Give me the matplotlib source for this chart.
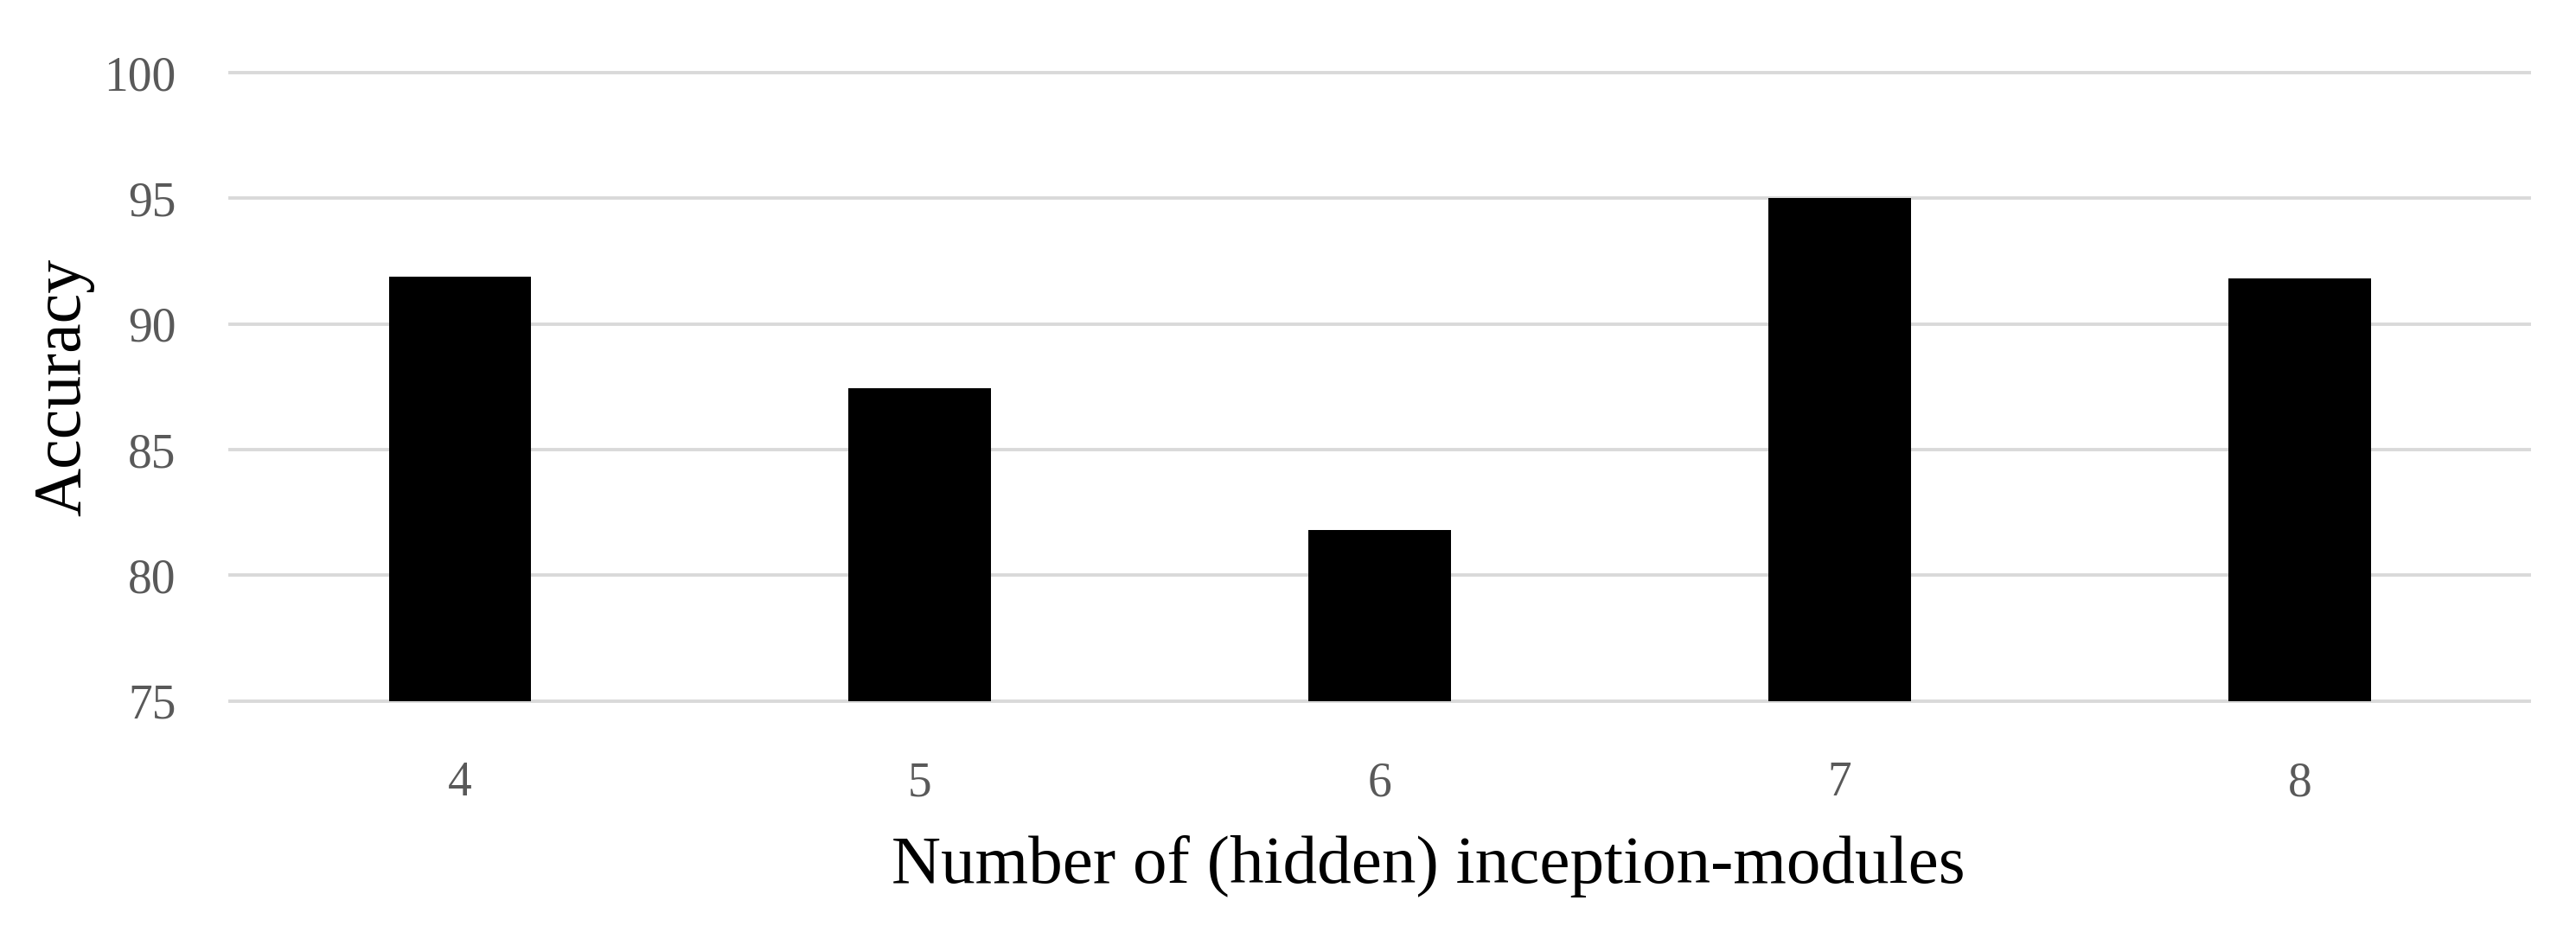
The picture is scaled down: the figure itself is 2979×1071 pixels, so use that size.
import matplotlib
matplotlib.use("Agg")
import matplotlib.pyplot as plt

# data
modules = ["4", "5", "6", "7", "8"]
accuracy = [91.9, 87.45, 81.8, 95.0, 91.8]
y_ticks = [75, 80, 85, 90, 95, 100]

plt.rcParams['font.family'] = ['Liberation Serif', 'DejaVu Serif']

fig = plt.figure(figsize=(29.79, 10.71), dpi=100)
ax = fig.add_axes([0.0893, 0.243, 0.8927, 0.6784])

x = list(range(len(modules)))
ax.bar(x, [a - 75 for a in accuracy], bottom=75, width=0.31, color="black", zorder=3)

ax.set_xlim(-0.5, len(modules) - 0.5)
ax.set_ylim(75, 100)
ax.set_yticks(y_ticks)
ax.set_xticks(x)
ax.set_xticklabels(modules)

ax.grid(True, axis="y", color="#d9d9d9", linewidth=2.8, zorder=0)
for gl in ax.get_ygridlines():
    gl.set_clip_on(False)
for s in ax.spines.values():
    s.set_visible(False)
ax.tick_params(axis="both", length=0, labelsize=40, colors="#595959")
ax.tick_params(axis="y", pad=45)
ax.tick_params(axis="x", pad=50)

ax.set_xlabel("Number of (hidden) inception-modules", fontsize=57, labelpad=24)
ax.xaxis.label.set_x(0.521)
ax.set_ylabel("Accuracy", fontsize=56, labelpad=8)

fig.savefig("out.png", dpi=100)
